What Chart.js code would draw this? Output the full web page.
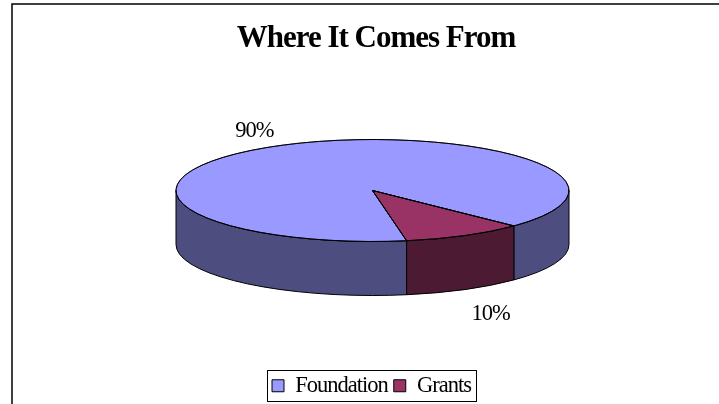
<!DOCTYPE html>
<html>
<head>
<meta charset="utf-8">
<style>
  html, body { margin: 0; padding: 0; background: #ffffff; }
  #wrap { width: 719px; height: 404px; }
</style>
<script src="https://cdn.jsdelivr.net/npm/chart.js@4"></script>
</head>
<body>
<div id="wrap"><canvas id="pieChart" width="719" height="404"></canvas></div>
<script>
const categories = ['Foundation', 'Grants'];
const values = [90, 10];
const pieColors = ['#9999ff', '#993366'];
const sideColors = ['#4d4d80', '#4d1a33'];

// the pie is drawn round by Chart.js and squashed here to look tilted
const tilt = { cx: 372.5, cy: 190.5, ry: 51, rx: 196.5, depth: 54 };
const yScale = tilt.ry / tilt.rx;

function toScreen(chart) {
    const ctx = chart.ctx;
    const arc = chart.getDatasetMeta(0).data[0];
    ctx.translate(tilt.cx, tilt.cy);
    ctx.scale(1, yScale);
    ctx.translate(-arc.x, -arc.y);
}

// stroke the current path at 1px, the squash would thin it otherwise
function strokeFlat(ctx) {
    ctx.save();
    ctx.setTransform(1, 0, 0, 1, 0, 0);
    ctx.strokeStyle = '#000000';
    ctx.lineWidth = 1;
    ctx.stroke();
    ctx.restore();
}

// draw one wall piece between two angles
function drawWall(ctx, x, y, r, from, to, color) {
    const a = Math.max(from, 0);
    const b = Math.min(to, Math.PI);
    if (b <= a) return;
    const drop = tilt.depth / yScale;
    ctx.beginPath();
    ctx.arc(x, y, r, a, b);
    ctx.lineTo(x + r * Math.cos(b), y + r * Math.sin(b) + drop);
    ctx.arc(x, y + drop, r, b, a, true);
    ctx.closePath();
    ctx.fillStyle = color;
    ctx.fill();
    strokeFlat(ctx);
}

const tiltPlugin = {
    id: 'tiltPlugin',
    beforeLayout(chart) {
        chart.ctx.letterSpacing = '-1px';
    },
    afterLayout(chart) {
        // title sits a little right of the legend in the original
        chart.titleBlock.left += 9;
    },
    beforeDatasetsDraw(chart) {
        const ctx = chart.ctx;
        ctx.save();
        toScreen(chart);
        chart.getDatasetMeta(0).data.forEach(function(arc, i) {
            const two = Math.PI * 2;
            // walls for both turns, arcs can run past a full circle
            for (let k = -1; k <= 1; k++) {
                drawWall(ctx, arc.x, arc.y, arc.outerRadius,
                    arc.startAngle + k * two, arc.endAngle + k * two, sideColors[i]);
            }
        });
    },
    afterDatasetsDraw(chart) {
        const ctx = chart.ctx;
        // slice outlines again at full width
        chart.getDatasetMeta(0).data.forEach(function(arc) {
            ctx.beginPath();
            ctx.moveTo(arc.x, arc.y);
            ctx.arc(arc.x, arc.y, arc.outerRadius, arc.startAngle, arc.endAngle);
            ctx.closePath();
            strokeFlat(ctx);
        });
        ctx.restore();

        // percent labels
        ctx.save();
        ctx.font = "22.5px 'Liberation Serif'";
        ctx.fillStyle = '#000000';
        ctx.textAlign = 'center';
        ctx.textBaseline = 'middle';
        chart.getDatasetMeta(0).data.forEach(function(arc, i) {
            const mid = (arc.startAngle + arc.endAngle) / 2;
            const lx = tilt.cx + Math.cos(mid) * tilt.rx * 1.28;
            let ly = tilt.cy + Math.sin(mid) * tilt.ry * 1.33;
            if (Math.sin(mid) > 0) ly += tilt.depth * 1.18;
            ctx.fillText(values[i] + '%', lx, ly);
        });
        ctx.restore();
    },
    afterDraw(chart) {
        const ctx = chart.ctx;
        const boxes = chart.legend.legendHitBoxes;
        const first = boxes[0];
        const last = boxes[boxes.length - 1];
        ctx.save();
        ctx.strokeStyle = '#000000';
        ctx.lineWidth = 1;
        // legend box
        const boxLeft = Math.round(first.left - 5) + 0.5;
        const boxTop = Math.round(first.top - 5) + 0.5;
        const boxRight = Math.round(last.left + last.width + 5) + 0.5;
        const boxBottom = Math.round(first.top + first.height + 4) + 0.5;
        ctx.strokeRect(boxLeft, boxTop, boxRight - boxLeft, boxBottom - boxTop);
        // outer frame, only top and left are in the shot
        ctx.lineWidth = 1.5;
        ctx.beginPath();
        ctx.moveTo(12, 404);
        ctx.lineTo(12, 4);
        ctx.lineTo(719, 4);
        ctx.stroke();
        ctx.restore();
    }
};

new Chart(document.getElementById('pieChart'), {
    type: 'pie',
    data: {
        labels: categories,
        datasets: [{
            data: values,
            backgroundColor: pieColors,
            borderColor: '#000000',
            borderWidth: 1,
            borderAlign: 'center',
            radius: tilt.rx
        }]
    },
    options: {
        responsive: false,
        animation: false,
        rotation: 170,
        layout: { padding: { left: 24, right: 0, top: 8, bottom: -3 } },
        plugins: {
            title: {
                display: true,
                text: 'Where It Comes From',
                color: '#000000',
                font: { family: "'Liberation Serif'", size: 31, weight: 'bold' },
                padding: { top: 12, bottom: 8 }
            },
            legend: {
                position: 'bottom',
                labels: {
                    color: '#000000',
                    font: { family: "'Liberation Serif'", size: 22.5 },
                    boxWidth: 12,
                    boxHeight: 12,
                    padding: 6
                }
            },
            tooltip: { enabled: false }
        }
    },
    plugins: [tiltPlugin]
});
</script>
</body>
</html>
